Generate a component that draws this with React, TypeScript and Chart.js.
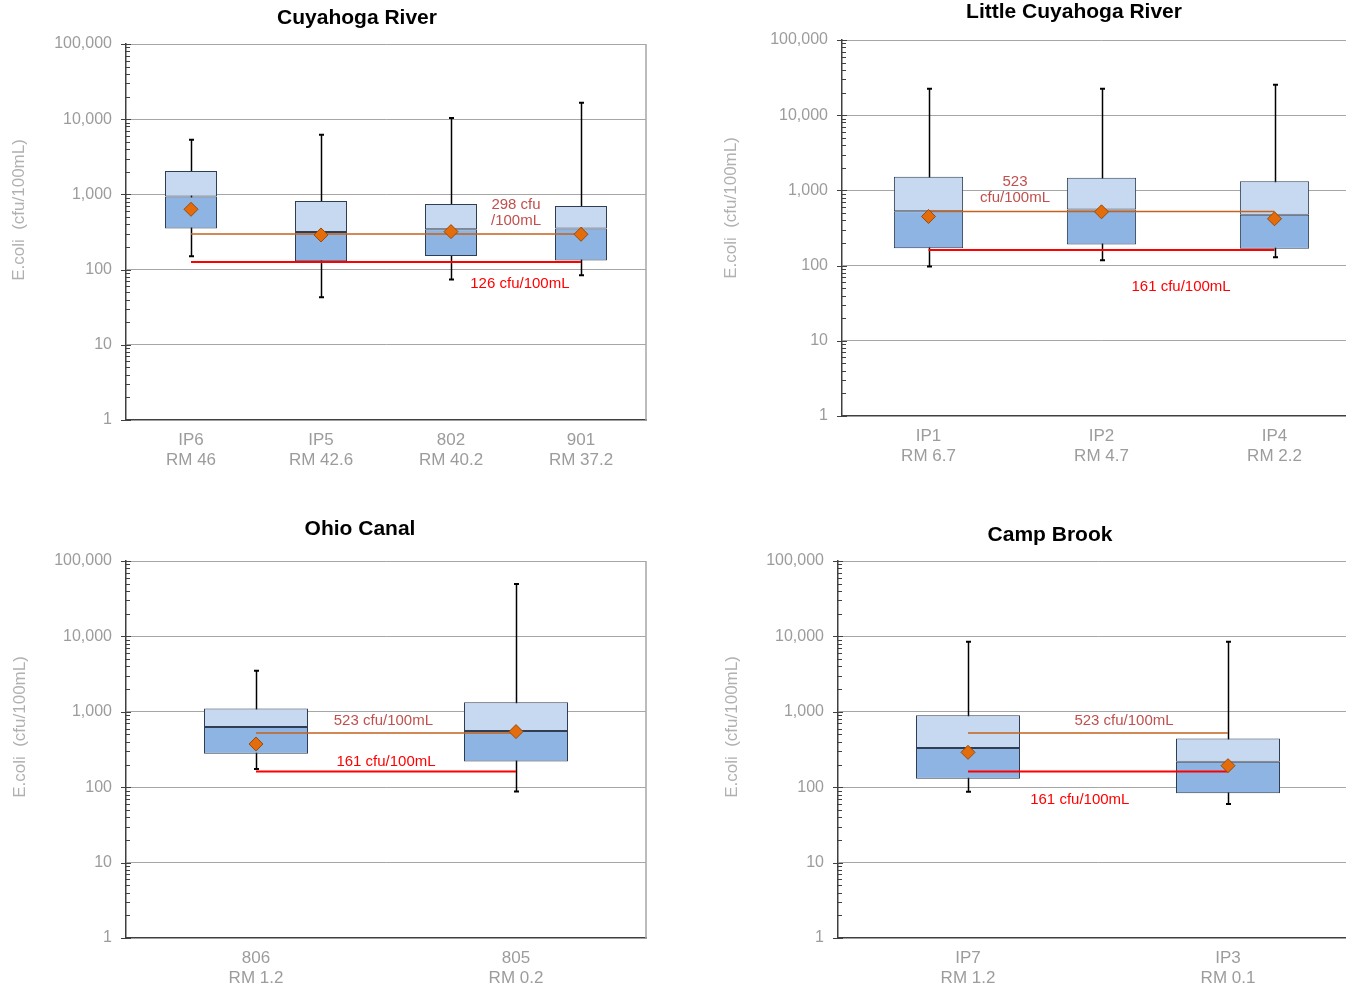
import React, { useEffect, useRef } from 'react';
import { Chart, registerables } from 'chart.js';

Chart.register(...registerables);

const FONT = '"Liberation Sans", Arial, Helvetica, sans-serif';

// ---------------- Data ----------------
const yTickValues = [1, 10, 100, 1000, 10000, 100000];

// Cuyahoga River
const cuyahogaSites = [['IP6', 'RM 46'], ['IP5', 'RM 42.6'], ['802', 'RM 40.2'], ['901', 'RM 37.2']];
const cuyahogaMin = [151, 43, 74, 84];
const cuyahogaQ1 = [351, 129, 152, 132];
const cuyahogaMedian = [935, 317, 344, 351];
const cuyahogaQ3 = [2046, 817, 746, 702];
const cuyahogaMax = [5350, 6220, 10350, 16560];
const cuyahogaMean = [634, 289, 320, 295];
const cuyahogaUpperRef = 298;
const cuyahogaLowerRef = 126;

// Little Cuyahoga River
const littleSites = [['IP1', 'RM 6.7'], ['IP2', 'RM 4.7'], ['IP4', 'RM 2.2']];
const littleMin = [97, 118, 129];
const littleQ1 = [170, 191, 167];
const littleMedian = [529, 557, 473];
const littleQ3 = [1517, 1472, 1327];
const littleMax = [22500, 22500, 25450];
const littleMean = [450, 519, 419];
const littleUpperRef = 523;
const littleLowerRef = 161;

// Ohio Canal
const ohioSites = [['806', 'RM 1.2'], ['805', 'RM 0.2']];
const ohioMin = [174, 88];
const ohioQ1 = [278, 220];
const ohioMedian = [630, 557];
const ohioQ3 = [1103, 1336];
const ohioMax = [3494, 49400];
const ohioMean = [374, 546];
const ohioUpperRef = 523;
const ohioLowerRef = 161;

// Camp Brook
const campSites = [['IP7', 'RM 1.2'], ['IP3', 'RM 0.1']];
const campMin = [87, 60];
const campQ1 = [129, 83];
const campMedian = [331, 218];
const campQ3 = [898, 444];
const campMax = [8480, 8480];
const campMean = [290, 193];
const campUpperRef = 523;
const campLowerRef = 161;

// ---------------- Styles ----------------
const LIGHT_BOX = '#C6D9F1';
const DARK_BOX = '#8DB4E2';
const BOX_EDGE = '#2F3E52';
const UPPER_LINE = '#C5621C';
const LOWER_LINE = '#FF0000';
const UPPER_TEXT = '#C0504D';
const LOWER_TEXT = '#FF0000';
const MEAN_FILL = '#E46C0A';
const MEAN_EDGE = '#9A4A08';
const AXIS_DARK = '#404040';
const GRID = '#A6A6A6';
const X_AXIS_H = 50;

type Layout = {
  left: number; top: number; width: number; height: number;
  plotLeft: number; plotTop: number; plotRight: number; plotBottom: number;
  titleX: number; titleY: number; yTitleX: number; yTitleY: number;
};

type PanelCfg = {
  title: string;
  sites: string[][];
  min: number[]; q1: number[]; median: number[]; q3: number[]; max: number[]; mean: number[];
  upperRef: number; lowerRef: number;
  upperText: string[]; lowerText: string[];
  upperPos: { at: number; dy: number };
  lowerPos: { at: number; dy: number };
  layout: Layout;
};

const panels: PanelCfg[] = [
  {
    title: 'Cuyahoga River',
    sites: cuyahogaSites, min: cuyahogaMin, q1: cuyahogaQ1, median: cuyahogaMedian, q3: cuyahogaQ3,
    max: cuyahogaMax, mean: cuyahogaMean, upperRef: cuyahogaUpperRef, lowerRef: cuyahogaLowerRef,
    upperText: ['298 cfu', '/100mL'], lowerText: ['126 cfu/100mL'],
    upperPos: { at: 2.5, dy: -29 }, lowerPos: { at: 2.53, dy: 22 },
    layout: { left: 0, top: 0, width: 714, height: 490, plotLeft: 126, plotTop: 44, plotRight: 646, plotBottom: 420, titleX: 357, titleY: 18, yTitleX: 19, yTitleY: 210 },
  },
  {
    title: 'Little Cuyahoga River',
    sites: littleSites, min: littleMin, q1: littleQ1, median: littleMedian, q3: littleQ3,
    max: littleMax, mean: littleMean, upperRef: littleUpperRef, lowerRef: littleLowerRef,
    upperText: ['523', 'cfu/100mL'], lowerText: ['161 cfu/100mL'],
    upperPos: { at: 0.5, dy: -30 }, lowerPos: { at: 1.46, dy: 37 },
    layout: { left: 706, top: 0, width: 716, height: 490, plotLeft: 842, plotTop: 40, plotRight: 1361, plotBottom: 416, titleX: 1074, titleY: 12, yTitleX: 731, yTitleY: 208 },
  },
  {
    title: 'Ohio Canal',
    sites: ohioSites, min: ohioMin, q1: ohioQ1, median: ohioMedian, q3: ohioQ3,
    max: ohioMax, mean: ohioMean, upperRef: ohioUpperRef, lowerRef: ohioLowerRef,
    upperText: ['523 cfu/100mL'], lowerText: ['161 cfu/100mL'],
    upperPos: { at: 0.49, dy: -12 }, lowerPos: { at: 0.5, dy: -10 },
    layout: { left: 0, top: 500, width: 720, height: 488, plotLeft: 126, plotTop: 561, plotRight: 646, plotBottom: 938, titleX: 360, titleY: 529, yTitleX: 20, yTitleY: 727 },
  },
  {
    title: 'Camp Brook',
    sites: campSites, min: campMin, q1: campQ1, median: campMedian, q3: campQ3,
    max: campMax, mean: campMean, upperRef: campUpperRef, lowerRef: campLowerRef,
    upperText: ['523 cfu/100mL'], lowerText: ['161 cfu/100mL'],
    upperPos: { at: 0.6, dy: -12 }, lowerPos: { at: 0.43, dy: 28 },
    layout: { left: 700, top: 500, width: 700, height: 488, plotLeft: 838, plotTop: 561, plotRight: 1358, plotBottom: 938, titleX: 1050, titleY: 535, yTitleX: 732, yTitleY: 727 },
  },
];

function makeExtras(p: PanelCfg) {
  const L = p.layout;
  return {
    id: 'boxExtras',
    beforeDatasetsDraw(chart: any) {
      const { ctx } = chart;
      const x = chart.scales.x;
      const y = chart.scales.y;
      ctx.save();
      ctx.strokeStyle = '#000000';
      p.sites.forEach((_, i) => {
        const px = Math.round(x.getPixelForValue(i)) + 0.5;
        const top = y.getPixelForValue(p.max[i]);
        const bot = y.getPixelForValue(p.min[i]);
        ctx.lineWidth = 1.5;
        ctx.beginPath();
        ctx.moveTo(px, top);
        ctx.lineTo(px, bot);
        ctx.stroke();
        ctx.lineWidth = 2;
        ctx.beginPath();
        ctx.moveTo(px - 2.5, top);
        ctx.lineTo(px + 2.5, top);
        ctx.moveTo(px - 2.5, bot);
        ctx.lineTo(px + 2.5, bot);
        ctx.stroke();
      });
      ctx.restore();
    },
    afterDraw(chart: any) {
      const { ctx, chartArea } = chart;
      const x = chart.scales.x;
      const y = chart.scales.y;
      ctx.save();
      // right frame
      ctx.strokeStyle = GRID;
      ctx.lineWidth = 1.5;
      ctx.beginPath();
      ctx.moveTo(chartArea.right, chartArea.top);
      ctx.lineTo(chartArea.right, chartArea.bottom);
      ctx.stroke();
      // tick marks on y axis
      ctx.strokeStyle = AXIS_DARK;
      ctx.lineWidth = 1;
      const ax = chartArea.left;
      for (let k = 0; k < 5; k++) {
        for (let m = 1; m <= 9; m++) {
          const v = m * Math.pow(10, k);
          const py = Math.round(y.getPixelForValue(v)) + 0.5;
          ctx.beginPath();
          if (m === 1) {
            ctx.moveTo(ax - 5, py);
            ctx.lineTo(ax + 5, py);
          } else {
            ctx.moveTo(ax, py);
            ctx.lineTo(ax + 4, py);
          }
          ctx.stroke();
        }
      }
      {
        const py = Math.round(y.getPixelForValue(100000)) + 0.5;
        ctx.beginPath();
        ctx.moveTo(ax - 5, py);
        ctx.lineTo(ax + 5, py);
        ctx.stroke();
      }
      // title
      ctx.fillStyle = '#000000';
      ctx.font = `bold 21px ${FONT}`;
      ctx.textAlign = 'center';
      ctx.textBaseline = 'middle';
      ctx.fillText(p.title, L.titleX - L.left, L.titleY - L.top);
      // y-axis title
      ctx.save();
      ctx.translate(L.yTitleX - L.left, L.yTitleY - L.top);
      ctx.rotate(-Math.PI / 2);
      ctx.fillStyle = '#B0B0B0';
      ctx.font = `17px ${FONT}`;
      ctx.fillText('E.coli  (cfu/100mL)', 0, 0);
      ctx.restore();
      // annotations
      ctx.font = `15px ${FONT}`;
      const drawLabel = (lines: string[], pos: { at: number; dy: number }, value: number, color: string) => {
        const px = x.getPixelForValue(pos.at);
        const py = y.getPixelForValue(value) + pos.dy;
        ctx.fillStyle = color;
        lines.forEach((t, k) => ctx.fillText(t, px, py + k * 16));
      };
      drawLabel(p.upperText, p.upperPos, p.upperRef, UPPER_TEXT);
      drawLabel(p.lowerText, p.lowerPos, p.lowerRef, LOWER_TEXT);
      ctx.restore();
    },
  };
}

function Panel({ p }: { p: PanelCfg }) {
  const ref = useRef<HTMLCanvasElement | null>(null);
  useEffect(() => {
    const canvas = ref.current;
    if (!canvas) return;
    const L = p.layout;
    const chart = new Chart(canvas, {
      type: 'bar',
      data: {
        labels: p.sites,
        datasets: [
          {
            type: 'bar',
            label: 'Q1 to median',
            data: p.q1.map((v, i) => [v, p.median[i]]),
            backgroundColor: DARK_BOX,
            borderColor: BOX_EDGE,
            borderWidth: 1,
            borderSkipped: false,
            grouped: false,
            barPercentage: 0.4,
            categoryPercentage: 1,
            order: 3,
          } as any,
          {
            type: 'bar',
            label: 'Median to Q3',
            data: p.median.map((v, i) => [v, p.q3[i]]),
            backgroundColor: LIGHT_BOX,
            borderColor: BOX_EDGE,
            borderWidth: 1,
            borderSkipped: false,
            grouped: false,
            barPercentage: 0.4,
            categoryPercentage: 1,
            order: 3,
          } as any,
          {
            type: 'line',
            label: 'Upper reference',
            data: p.sites.map(() => p.upperRef),
            borderColor: UPPER_LINE,
            borderWidth: 1.5,
            pointRadius: 0,
            fill: false,
            order: 2,
          } as any,
          {
            type: 'line',
            label: 'Lower reference',
            data: p.sites.map(() => p.lowerRef),
            borderColor: LOWER_LINE,
            borderWidth: 2,
            pointRadius: 0,
            fill: false,
            order: 2,
          } as any,
          {
            type: 'line',
            label: 'Mean',
            data: p.mean,
            showLine: false,
            pointStyle: 'rectRot',
            pointRadius: 7,
            pointBackgroundColor: MEAN_FILL,
            pointBorderColor: MEAN_EDGE,
            pointBorderWidth: 1,
            order: 1,
          } as any,
        ],
      },
      options: {
        responsive: false,
        animation: false,
        devicePixelRatio: 1,
        events: [],
        layout: {
          padding: {
            left: 0,
            top: L.plotTop - L.top,
            right: L.left + L.width - L.plotRight,
            bottom: L.top + L.height - L.plotBottom - X_AXIS_H,
          },
        },
        plugins: {
          legend: { display: false },
          tooltip: { enabled: false },
          title: { display: false },
        },
        scales: {
          x: {
            type: 'category',
            offset: true,
            grid: { display: false, drawTicks: false },
            border: { display: true, color: AXIS_DARK, width: 1.5 },
            ticks: {
              color: '#9C9C9C',
              font: { family: FONT, size: 17, lineHeight: 1.18 },
              padding: 10,
              maxRotation: 0,
              autoSkip: false,
            },
            afterFit: (s: any) => { s.height = X_AXIS_H; },
          },
          y: {
            type: 'logarithmic',
            min: 1,
            max: 100000,
            afterBuildTicks: (s: any) => { s.ticks = yTickValues.map((v) => ({ value: v })); },
            ticks: {
              callback: (v: any) => Number(v).toLocaleString('en-US'),
              color: '#9C9C9C',
              font: { family: FONT, size: 16 },
              padding: 14,
            },
            grid: {
              color: (c: any) => (c.tick && c.tick.value === 1 ? 'rgba(0,0,0,0)' : GRID),
              lineWidth: 1,
              drawTicks: false,
            },
            border: { color: AXIS_DARK, width: 1.5 },
            afterFit: (s: any) => { s.width = L.plotLeft - L.left; },
          },
        },
      } as any,
      plugins: [makeExtras(p)],
    });
    return () => chart.destroy();
  }, [p]);
  const L = p.layout;
  return (
    <canvas
      ref={ref}
      width={L.width}
      height={L.height}
      style={{ position: 'absolute', left: L.left, top: L.top, width: L.width, height: L.height }}
    />
  );
}

export default function App() {
  return (
    <div
      style={{
        position: 'fixed',
        left: 0,
        top: 0,
        width: 1346,
        height: 988,
        overflow: 'hidden',
        background: '#ffffff',
      }}
    >
      {panels.map((p) => (
        <Panel key={p.title} p={p} />
      ))}
    </div>
  );
}
